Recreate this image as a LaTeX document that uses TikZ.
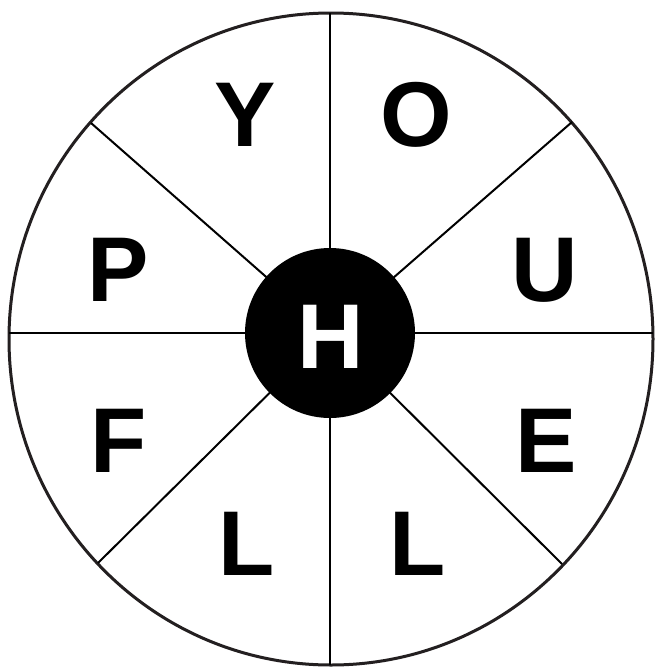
\documentclass[tikz,border=0pt]{standalone}
\usepackage{fontspec}
\setmainfont{Liberation Sans}
\tikzset{
  rim/.style={line width=3pt, draw={rgb,255:red,35;green,31;blue,32}},
  spoke/.style={line width=2pt, draw=black},
  letter/.style={font=\bfseries\fontsize{92}{92}\selectfont, inner sep=0pt, anchor=base},
  hub/.style={circle, fill=black, minimum size=170pt, inner sep=0pt, text=white,
              font=\bfseries\fontsize{92}{92}\selectfont}
}
\begin{document}
\begin{tikzpicture}[x=1pt,y=-1pt]
\useasboundingbox (0,0) rectangle (654,667);
\fill[white] (0,0) rectangle (654,667);
% rim
\draw[rim] (331,339) ellipse [x radius=322, y radius=326];
% centre and rim points
\coordinate (c) at (330,333);
\coordinate (top) at (330,13);
\coordinate (bot) at (330,665);
\coordinate (lft) at (9,333);
\coordinate (rgt) at (653,333);
\coordinate (ul) at (91,123);
\coordinate (ur) at (572,122);
\coordinate (ll) at (98,563);
\coordinate (lr) at (562,564);
% spokes
\draw[spoke] (top) -- (bot);
\draw[spoke] (lft) -- (rgt);
\draw[spoke] (c) -- (ul);
\draw[spoke] (c) -- (ur);
\draw[spoke] (c) -- (ll);
\draw[spoke] (c) -- (lr);
% hub
\node[hub] (hub) at (c) {};
\node[letter, text=white] (h) at (330.5,368.7) {H};
% letters
\node[letter] (y) at (245,146) {Y};
\node[letter] (o) at (416.5,146) {O};
\node[letter] (p) at (118,301) {P};
\node[letter] (u) at (545,301) {U};
\node[letter] (f) at (118.5,472) {F};
\node[letter] (e) at (546.5,472) {E};
\node[letter] (l1) at (246.5,575) {L};
\node[letter] (l2) at (418,575) {L};
\end{tikzpicture}
\end{document}
